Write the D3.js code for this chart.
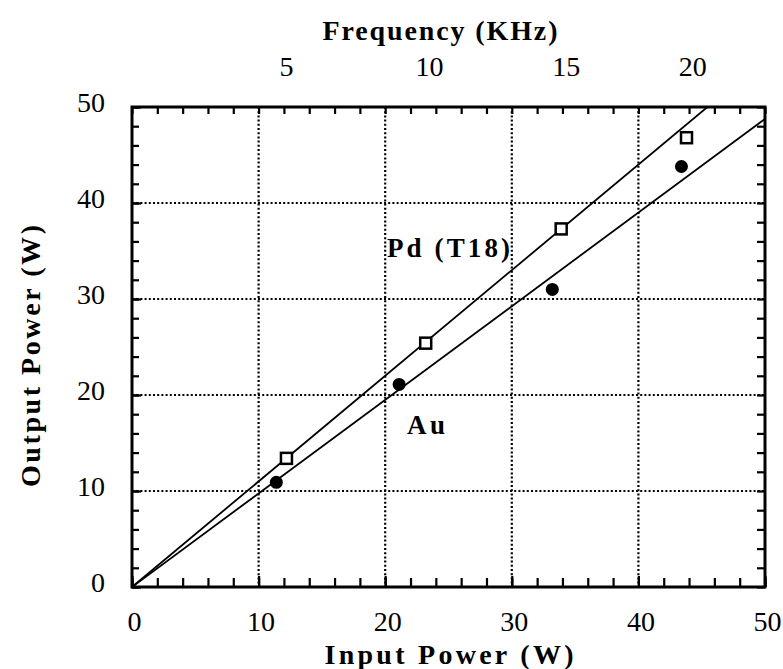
<!DOCTYPE html>
<html><head><meta charset="utf-8">
<script src="https://cdn.jsdelivr.net/npm/d3@7"></script>
<style>
body{margin:0;background:#fff;}
svg{display:block;}
</style></head><body>
<svg id="c" width="783" height="669" font-family="Liberation Serif"></svg>
<script>
// ---- data ----
const pdInput  = [12.2, 23.2, 33.9, 43.8];
const pdOutput = [13.4, 25.4, 37.3, 46.8];
const auInput  = [11.4, 21.1, 33.2, 43.4];
const auOutput = [10.9, 21.1, 31.0, 43.8];
const pdSlope = 1.10;   // fitted line through origin
const auSlope = 0.975;
const freqLabels = ["5", "10", "15", "20"];
const freqPos = [12.2, 23.5, 34.3, 44.3]; // input power at which each frequency occurs
const xTicks = [0, 10, 20, 30, 40, 50];
const yTicks = [0, 10, 20, 30, 40, 50];

const FONT = "Liberation Serif";
const svg = d3.select("#c");
const L = 132, R = 765, T = 107, B = 587;
const x = d3.scaleLinear().domain([0, 50]).range([L, R]);
const y = d3.scaleLinear().domain([0, 50]).range([B, T]);

// gridlines
const grid = svg.append("g").attr("stroke", "#000").attr("stroke-width", 2.2).attr("stroke-dasharray", "2,2.2");
[10, 20, 30, 40].forEach(v => {
  grid.append("line").attr("x1", x(v)).attr("x2", x(v)).attr("y1", T).attr("y2", B);
  grid.append("line").attr("x1", L).attr("x2", R).attr("y1", y(v)).attr("y2", y(v));
});

// axes with inward ticks
const minor = d3.range(0, 51, 2);
function styleAxis(g) {
  g.attr("font-family", FONT);
  g.select(".domain").remove();
  g.selectAll(".tick line").attr("stroke", "#000").attr("stroke-width", 2.2);
  g.selectAll(".tick text").attr("font-family", FONT).attr("font-size", 28).attr("fill", "#000");
}
svg.append("g").attr("transform", `translate(0,${B})`)
  .call(d3.axisBottom(x).tickValues(minor).tickSize(-9).tickFormat(""))
  .call(styleAxis);
svg.append("g").attr("transform", `translate(0,${T})`)
  .call(d3.axisTop(x).tickValues(minor).tickSize(-7).tickFormat(""))
  .call(styleAxis);
svg.append("g").attr("transform", `translate(${L},0)`)
  .call(d3.axisLeft(y).tickValues(minor).tickSize(-7).tickFormat(""))
  .call(styleAxis);
svg.append("g").attr("transform", `translate(${R},0)`)
  .call(d3.axisRight(y).tickValues(minor).tickSize(-8).tickFormat(""))
  .call(styleAxis);
// major tick labels
const bx = svg.append("g").attr("transform", `translate(0,${B})`)
  .call(d3.axisBottom(x).tickValues(xTicks).tickSize(-11).tickPadding(24).tickFormat(d3.format("d")))
  .call(styleAxis);
bx.selectAll(".tick text").attr("dy", "0.71em").attr("dx", 2);
const ly = svg.append("g").attr("transform", `translate(${L},0)`)
  .call(d3.axisLeft(y).tickValues(yTicks).tickSize(-9).tickPadding(27).tickFormat(d3.format("d")))
  .call(styleAxis);
ly.selectAll(".tick text").attr("dy", "0.16em");

// frame
svg.append("rect").attr("x", L).attr("y", T).attr("width", R - L).attr("height", B - T)
  .attr("fill", "none").attr("stroke", "#000").attr("stroke-width", 3);

// top frequency labels
svg.append("g").selectAll("text").data(freqLabels).join("text")
  .attr("x", (d, i) => x(freqPos[i])).attr("y", 76).attr("font-family", FONT)
  .attr("text-anchor", "middle").attr("font-size", 28).text(d => d);

// clip for lines
svg.append("clipPath").attr("id", "clip").append("rect")
  .attr("x", L).attr("y", T).attr("width", R - L).attr("height", B - T);
const line = d3.line().x(d => x(d[0])).y(d => y(d[1]));
const lines = svg.append("g").attr("clip-path", "url(#clip)");
lines.append("path").datum([[0, 0], [50, 50 * pdSlope]]).attr("d", line)
  .attr("fill", "none").attr("stroke", "#000").attr("stroke-width", 1.8);
lines.append("path").datum([[0, 0], [50, 50 * auSlope]]).attr("d", line)
  .attr("fill", "none").attr("stroke", "#000").attr("stroke-width", 1.8);

// markers
svg.append("g").selectAll("circle").data(auInput).join("circle")
  .attr("cx", d => x(d)).attr("cy", (d, i) => y(auOutput[i])).attr("r", 6.5).attr("fill", "#000");
svg.append("g").selectAll("rect").data(pdInput).join("rect")
  .attr("x", d => x(d) - 5.5).attr("y", (d, i) => y(pdOutput[i]) - 5.5)
  .attr("width", 11).attr("height", 11).attr("fill", "#fff").attr("stroke", "#000").attr("stroke-width", 2.5);

// series labels
svg.append("text").attr("x", 387).attr("y", 257).attr("font-family", FONT).attr("font-size", 27).attr("font-weight", "bold")
  .attr("textLength", 123).attr("lengthAdjust", "spacing").text("Pd (T18)");
svg.append("text").attr("x", 407).attr("y", 434).attr("font-family", FONT).attr("font-size", 27).attr("font-weight", "bold")
  .attr("textLength", 38).attr("lengthAdjust", "spacing").text("Au");

// axis titles
svg.append("text").attr("x", 449).attr("y", 664).attr("text-anchor", "middle").attr("font-family", FONT)
  .attr("font-size", 28).attr("font-weight", "bold")
  .attr("textLength", 249).attr("lengthAdjust", "spacing").text("Input Power (W)");
svg.append("text").attr("x", 440).attr("y", 40).attr("text-anchor", "middle").attr("font-family", FONT)
  .attr("font-size", 28).attr("font-weight", "bold")
  .attr("textLength", 235).attr("lengthAdjust", "spacing").text("Frequency (KHz)");
svg.append("text").attr("transform", "translate(40,356) rotate(-90)").attr("text-anchor", "middle").attr("font-family", FONT)
  .attr("font-size", 28).attr("font-weight", "bold")
  .attr("textLength", 262).attr("lengthAdjust", "spacing").text("Output Power (W)");
</script>
</body></html>
